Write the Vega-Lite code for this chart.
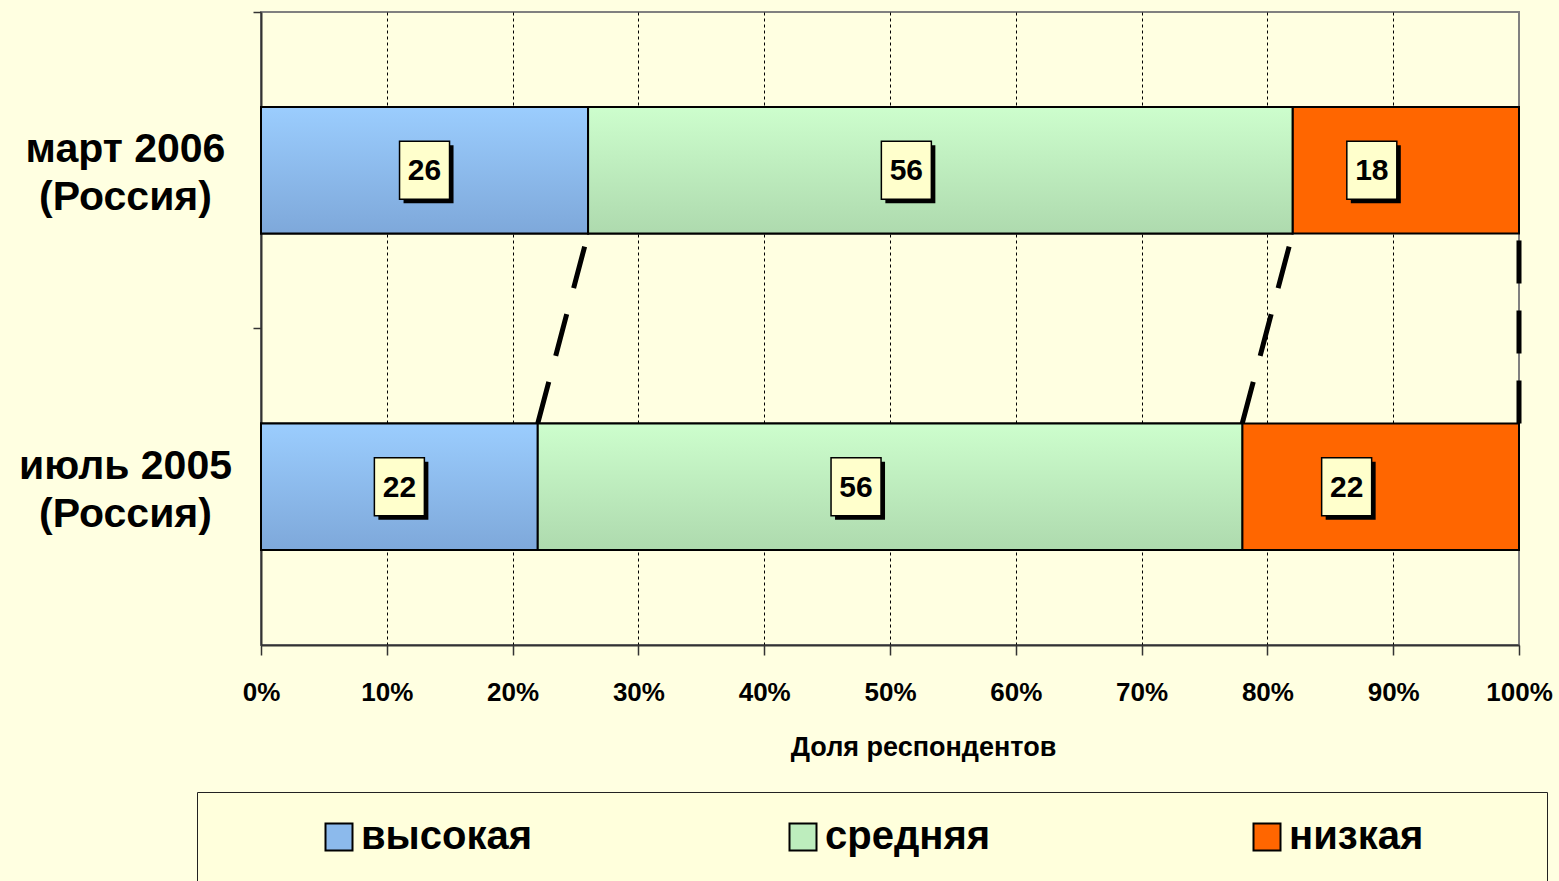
{
  "$schema": "https://vega.github.io/schema/vega-lite/v6.json",
  "width": 1258,
  "height": 633,
  "autosize": {"type": "none"},
  "padding": {"left": 261, "top": 12, "right": 40, "bottom": 236},
  "background": "#FFFFE1",
  "view": {"stroke": "#808080", "strokeWidth": 2, "fill": "#FFFFE1"},
  "config": {"font": "Liberation Sans"},
  "datasets": {
    "shares": [
      {"period": "март 2006 (Россия)", "level": "высокая", "order": 1, "value": 26},
      {"period": "март 2006 (Россия)", "level": "средняя", "order": 2, "value": 56},
      {"period": "март 2006 (Россия)", "level": "низкая", "order": 3, "value": 18},
      {"period": "июль 2005 (Россия)", "level": "высокая", "order": 1, "value": 22},
      {"period": "июль 2005 (Россия)", "level": "средняя", "order": 2, "value": 56},
      {"period": "июль 2005 (Россия)", "level": "низкая", "order": 3, "value": 22}
    ],
    "links": [
      {"upper": "март 2006 (Россия)", "lower": "июль 2005 (Россия)", "upperEnd": 26, "lowerEnd": 22},
      {"upper": "март 2006 (Россия)", "lower": "июль 2005 (Россия)", "upperEnd": 82, "lowerEnd": 78},
      {"upper": "март 2006 (Россия)", "lower": "июль 2005 (Россия)", "upperEnd": 100, "lowerEnd": 100}
    ]
  },
  "layer": [
    {
      "data": {"name": "shares"},
      "transform": [
        {"stack": "value", "groupby": ["period"], "sort": [{"field": "order"}], "as": ["x0", "x1"]},
        {"calculate": "datum.order == 1 ? (datum.x0 + datum.x1) / 2 : (datum.x0 + datum.x1) / 2 - 2.7", "as": "labelPos"}
      ],
      "layer": [
        {
          "mark": {"type": "bar", "stroke": "black", "strokeWidth": 2},
          "encoding": {
            "y": {
              "field": "period", "type": "nominal", "title": null,
              "sort": ["март 2006 (Россия)", "июль 2005 (Россия)"],
              "scale": {"domain": ["март 2006 (Россия)", "июль 2005 (Россия)"], "paddingInner": 0.6, "paddingOuter": 0.3},
              "axis": {
                "ticks": true, "tickSize": 8, "tickColor": "#333333", "tickWidth": 1.5,
                "bandPosition": -0.75,
                "domainColor": "#333333", "domainWidth": 2,
                "labelExpr": "[slice(datum.label, 0, indexof(datum.label, ' (')), slice(datum.label, indexof(datum.label, ' (') + 1)]",
                "labelFontSize": 41, "labelFontWeight": "bold", "labelColor": "black",
                "labelAlign": "center", "labelBaseline": "middle", "labelPadding": 128,
                "labelOffset": -20,
                "labelLineHeight": 48, "labelLimit": 400
              }
            },
            "x": {
              "field": "x0", "type": "quantitative", "title": "Доля респондентов",
              "scale": {"domain": [0, 100], "nice": false},
              "axis": {
                "values": [0, 10, 20, 30, 40, 50, 60, 70, 80, 90, 100],
                "labelExpr": "datum.value + '%'",
                "labelFlush": false, "labelOverlap": false,
                "grid": true, "gridColor": "black", "gridDash": [3, 3], "gridWidth": 1,
                "gridOpacity": {"condition": {"test": "datum.value === 100 || datum.value === 0", "value": 0}, "value": 1},
                "tickColor": "#333333", "tickSize": 10, "tickWidth": 1.5,
                "domainColor": "#333333", "domainWidth": 2,
                "labelFontSize": 26, "labelFontWeight": "bold", "labelColor": "black", "labelPadding": 24,
                "titleFontSize": 27, "titleFontWeight": "bold", "titleColor": "black",
                "titleX": 662, "titleY": 102, "titleBaseline": "middle"
              }
            },
            "x2": {"field": "x1"},
            "color": {
              "field": "level", "type": "nominal",
              "scale": {
                "domain": ["высокая", "средняя", "низкая"],
                "range": ["#8CBAEC", "#BDEDBD", "#FF6600"]
              },
              "legend": {
                "orient": "none", "legendX": -64, "legendY": 780,
                "direction": "horizontal", "columns": 3, "gridAlign": "all", "columnPadding": 153,
                "title": " ", "titleOrient": "right", "titlePadding": 99, "titleFontSize": 38,
                "symbolOffset": 97, "labelOffset": 2,
                "padding": 25, "fillColor": "#FFFFDC", "strokeColor": "#222222",
                "labelFontSize": 40, "labelFontWeight": "bold", "labelColor": "black", "labelLimit": 600,
                "symbolType": "square", "symbolSize": 729, "symbolStrokeColor": "black", "symbolStrokeWidth": 2, "symbolOpacity": 1
              }
            }
          }
        },
        {
          "transform": [{"filter": "datum.level == 'высокая'"}],
          "mark": {"type": "bar", "stroke": "black", "strokeWidth": 2, "opacity": 1,
            "color": {"gradient": "linear", "x1": 0, "y1": 0, "x2": 0, "y2": 1, "stops": [{"offset": 0, "color": "#9BCDFE"}, {"offset": 1, "color": "#7EA8DA"}]}},
          "encoding": {
            "y": {"field": "period", "type": "nominal", "title": null, "sort": ["март 2006 (Россия)", "июль 2005 (Россия)"]},
            "x": {"field": "x0", "type": "quantitative", "title": "Доля респондентов"},
            "x2": {"field": "x1"}
          }
        },
        {
          "transform": [{"filter": "datum.level == 'средняя'"}],
          "mark": {"type": "bar", "stroke": "black", "strokeWidth": 2, "opacity": 1,
            "color": {"gradient": "linear", "x1": 0, "y1": 0, "x2": 0, "y2": 1, "stops": [{"offset": 0, "color": "#CDFECD"}, {"offset": 1, "color": "#AEDAAE"}]}},
          "encoding": {
            "y": {"field": "period", "type": "nominal", "title": null, "sort": ["март 2006 (Россия)", "июль 2005 (Россия)"]},
            "x": {"field": "x0", "type": "quantitative", "title": "Доля респондентов"},
            "x2": {"field": "x1"}
          }
        },
        {
          "mark": {"type": "point", "shape": "M-0.862,-1L0.862,-1L0.862,1L-0.862,1Z", "filled": true, "color": "black", "opacity": 1, "size": 3364, "xOffset": 4, "yOffset": 4},
          "encoding": {
            "y": {"field": "period", "type": "nominal", "title": null, "sort": ["март 2006 (Россия)", "июль 2005 (Россия)"]},
            "x": {"field": "labelPos", "type": "quantitative", "title": "Доля респондентов"}
          }
        },
        {
          "mark": {"type": "point", "shape": "M-0.862,-1L0.862,-1L0.862,1L-0.862,1Z", "filled": true, "fill": "#FFFFCC", "stroke": "black", "strokeWidth": 1.5, "opacity": 1, "size": 3364},
          "encoding": {
            "y": {"field": "period", "type": "nominal", "title": null, "sort": ["март 2006 (Россия)", "июль 2005 (Россия)"]},
            "x": {"field": "labelPos", "type": "quantitative", "title": "Доля респондентов"}
          }
        },
        {
          "mark": {"type": "text", "fontSize": 30, "fontWeight": "bold", "color": "black", "align": "center", "baseline": "middle", "dy": 1},
          "encoding": {
            "y": {"field": "period", "type": "nominal", "title": null, "sort": ["март 2006 (Россия)", "июль 2005 (Россия)"]},
            "x": {"field": "labelPos", "type": "quantitative", "title": "Доля респондентов"},
            "text": {"field": "value", "type": "quantitative"}
          }
        }
      ]
    },
    {
      "data": {"name": "links"},
      "mark": {"type": "rule", "color": "black", "strokeWidth": 5, "strokeDash": [43, 27], "strokeCap": "butt"},
      "encoding": {
        "x": {"field": "lowerEnd", "type": "quantitative", "title": "Доля респондентов"},
        "x2": {"field": "upperEnd"},
        "y": {"field": "lower", "type": "nominal", "title": null, "bandPosition": 0, "sort": ["март 2006 (Россия)", "июль 2005 (Россия)"]},
        "y2": {"field": "upper", "bandPosition": 1}
      }
    }
  ]
}
